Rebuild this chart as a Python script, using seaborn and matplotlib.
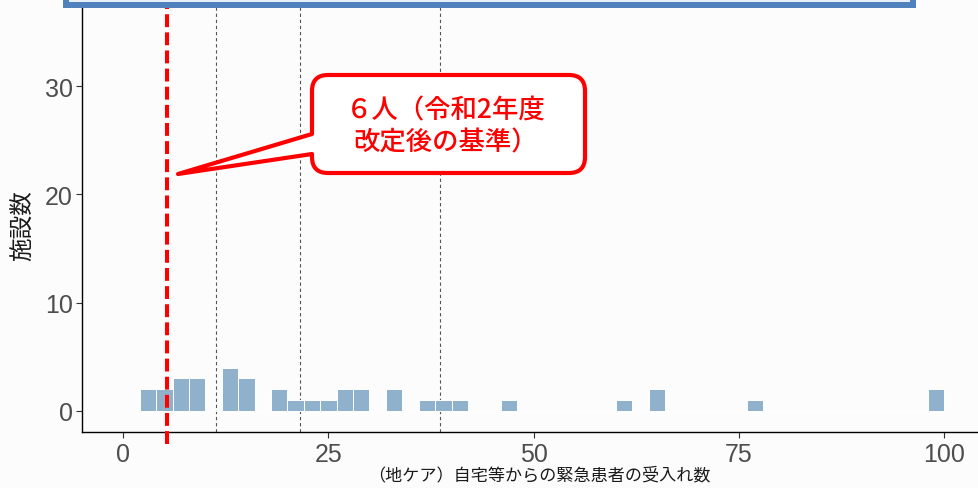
import numpy as np
import pandas as pd
import matplotlib
matplotlib.use("Agg")
import matplotlib.pyplot as plt
import seaborn as sns
from matplotlib.path import Path
from matplotlib.patches import PathPatch, Rectangle
from matplotlib.transforms import Affine2D

# data: histogram bins (centre of each 2-wide bin) and facility counts
bin_centers = [3, 5, 7, 9, 13, 15, 19, 21, 23, 25, 27, 29, 33, 37, 39, 41, 47, 61, 65, 77, 99]
counts = [2, 2, 3, 3, 4, 3, 2, 1, 1, 1, 2, 2, 2, 1, 1, 1, 1, 1, 2, 1, 2]
quartile_lines = [11.3, 21.5, 38.6]
threshold = 5.3
x_ticks = [0, 25, 50, 75, 100]
y_ticks = [0, 10, 20, 30]
x_label = "（地ケア）自宅等からの緊急患者の受入れ数"
y_label = "施設数"
callout_text = "６人（令和2年度\n改定後の基準）"

df = pd.DataFrame({"value": bin_centers, "n": counts})

sns.set_style("white")
plt.rcParams["font.family"] = ["Liberation Sans", "Noto Sans CJK JP", "DejaVu Sans"]

W, H = 979, 489
fig = plt.figure(figsize=(W / 100, H / 100), dpi=100, facecolor="#fcfcfc")
ax = fig.add_axes([82.5 / W, 1 - 433 / H, 1 - 82.5 / W, 433 / H])
ax.set_facecolor("#fcfcfc")

sns.histplot(data=df, x="value", weights="n", binwidth=2, binrange=(2, 100),
             color="#8fb1cb", edgecolor="white", linewidth=0.7, alpha=1, ax=ax)

for q in quartile_lines:
    ax.axvline(q, color="#555555", lw=0.8, ls=(0, (3, 2.5)), zorder=0.5)

ax.plot([threshold, threshold], [-3.05, 39], color="#ff0000", lw=2.9,
        ls=(0, (3.2, 1.3)), clip_on=False, zorder=5)

ax.set_xlim(-4.97, 104.27)
ax.set_ylim(-1.94, 38.04)
ax.set_xticks(x_ticks)
ax.set_yticks(y_ticks)
ax.tick_params(axis="both", labelsize=18, labelcolor="#4d4d4d", color="#333333",
               length=4, width=0.8, pad=3, bottom=True, left=True)
for s in ["top", "right"]:
    ax.spines[s].set_visible(False)
for s in ["left", "bottom"]:
    ax.spines[s].set_color("black")
    ax.spines[s].set_linewidth(1.0)

ax.set_xlabel(x_label, fontsize=12.3, color="#1a1a1a")
ax.xaxis.set_label_coords(0.51, -0.077)
ax.set_ylabel(y_label, fontsize=17, color="#1a1a1a")
ax.yaxis.set_label_coords(-0.053, 0.48)

# pixel coordinates with y measured from the top
px = Affine2D().scale(1, -1).translate(0, H)

# blue frame cut off at the top
fig.add_artist(Rectangle((66, -20), 847, 25.5, transform=px, facecolor="#e9eff7",
                         edgecolor="#4f81bd", lw=4.3, zorder=10))

# speech-bubble callout
L, R, T, B, r = 312, 585, 76, 174, 16
tip = (178, 175)
y1, y2 = 135, 155
verts = [(L, y1), tip, (L, y2), (L, B - r), (L, B), (L + r, B), (R - r, B), (R, B), (R, B - r),
         (R, T + r), (R, T), (R - r, T), (L + r, T), (L, T), (L, T + r), (L, y1), (L, y1)]
codes = [Path.MOVETO, Path.LINETO, Path.LINETO, Path.LINETO, Path.CURVE3, Path.CURVE3,
         Path.LINETO, Path.CURVE3, Path.CURVE3, Path.LINETO, Path.CURVE3, Path.CURVE3,
         Path.LINETO, Path.CURVE3, Path.CURVE3, Path.LINETO, Path.CLOSEPOLY]
fig.add_artist(PathPatch(Path(verts, codes), transform=px, facecolor="white",
                         edgecolor="#ff0000", lw=3.0, joinstyle="round", zorder=11))
fig.text(446 / W, 1 - 127 / H, callout_text, ha="center", va="center", color="#ff0000",
         fontsize=19, weight=500, linespacing=1.25, family=["Noto Sans CJK JP", "DejaVu Sans"], zorder=12)

fig.savefig("out.png", dpi=100, facecolor=fig.get_facecolor())
